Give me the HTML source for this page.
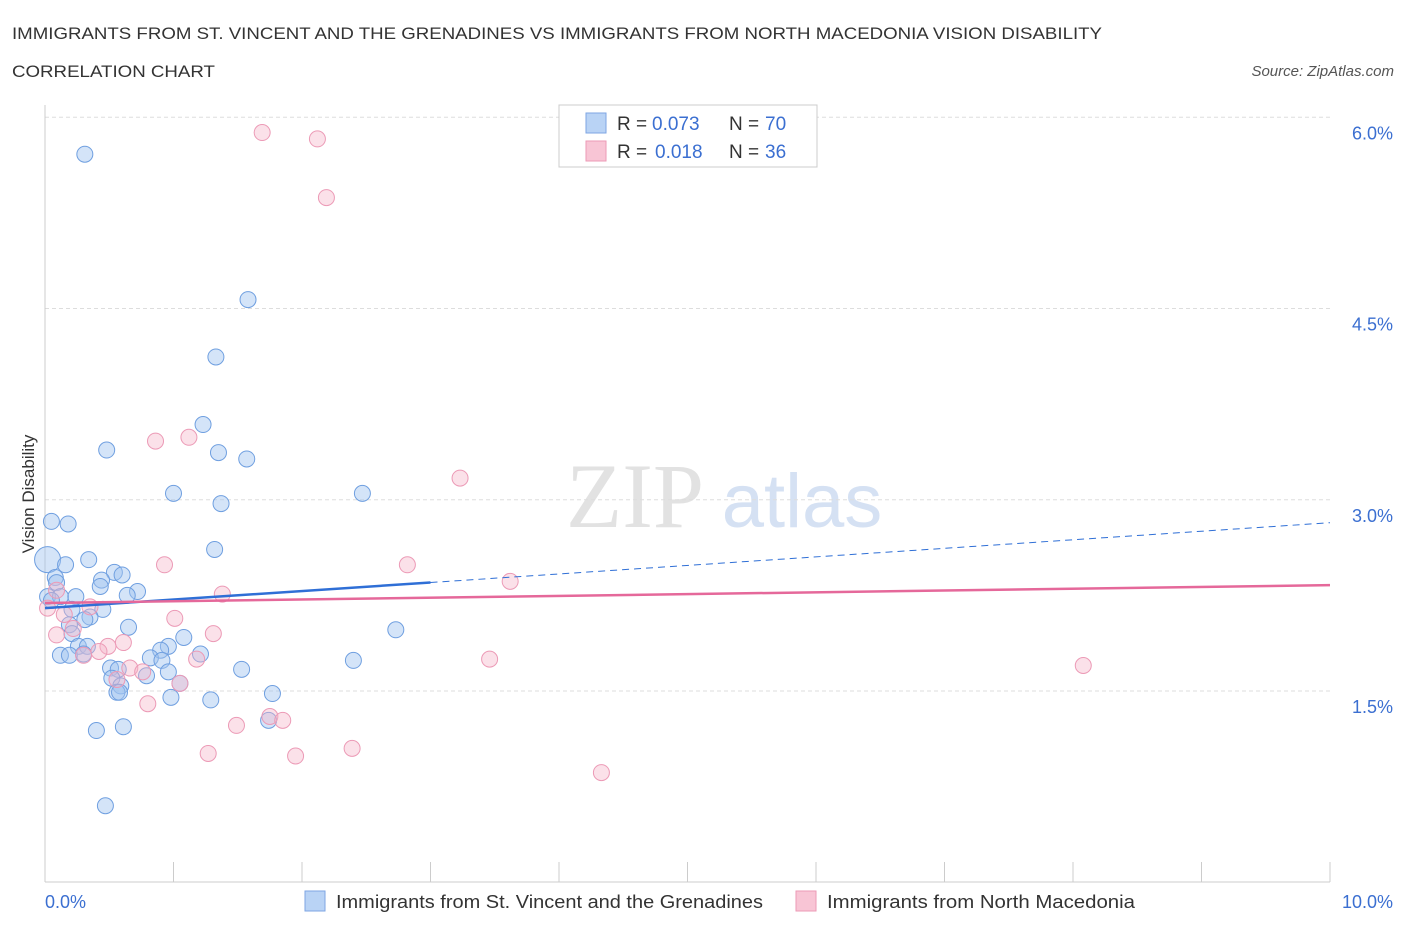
<!DOCTYPE html>
<html><head><meta charset="utf-8"><style>
body{margin:0;background:#fff;width:1406px;height:930px;overflow:hidden;font-family:"Liberation Sans",sans-serif}
</style></head><body>
<svg width="1406" height="930" xmlns="http://www.w3.org/2000/svg">
<text x="12" y="39" font-size="17" fill="#333" textLength="1090" lengthAdjust="spacingAndGlyphs">IMMIGRANTS FROM ST. VINCENT AND THE GRENADINES VS IMMIGRANTS FROM NORTH MACEDONIA VISION DISABILITY</text>
<text x="12" y="77" font-size="17" fill="#333" textLength="203" lengthAdjust="spacingAndGlyphs">CORRELATION CHART</text>
<text x="1394" y="76" font-size="15" fill="#555" font-style="italic" text-anchor="end">Source: ZipAtlas.com</text>
<text x="635" y="527" font-size="92" fill="#e2e2e2" font-family="Liberation Serif,serif" text-anchor="middle">ZIP</text>
<text x="802" y="527" font-size="76" fill="#d5e1f3" text-anchor="middle">atlas</text>
<g id="grid"></g>
<line x1="45" y1="105" x2="45" y2="882" stroke="#ccc"/>
<line x1="45" y1="882" x2="1330" y2="882" stroke="#ccc"/>
<g id="xticks"></g>
<text transform="translate(34,494) rotate(-90)" font-size="17" fill="#333" text-anchor="middle">Vision Disability</text>
<text x="45" y="908" font-size="18" fill="#3b6fd1">0.0%</text>
<text x="1393" y="908" font-size="18" fill="#3b6fd1" text-anchor="end">10.0%</text>
<g id="pts"></g>
<g id="trends"></g>
<g>
<rect x="559" y="105" width="258" height="62" fill="#fff" stroke="#ccc"/>
<rect x="586" y="113" width="20" height="20" fill="#b9d3f5" stroke="#7ea6e3"/>
<rect x="586" y="141" width="20" height="20" fill="#f8c5d5" stroke="#ec9ab6"/>
<text x="617" y="130" font-size="19" fill="#333">R =</text>
<text x="652" y="130" font-size="19" fill="#3b6fd1">0.073</text>
<text x="729" y="130" font-size="19" fill="#333">N =</text>
<text x="765" y="130" font-size="19" fill="#3b6fd1">70</text>
<text x="617" y="158" font-size="19" fill="#333">R =</text>
<text x="655" y="158" font-size="19" fill="#3b6fd1">0.018</text>
<text x="729" y="158" font-size="19" fill="#333">N =</text>
<text x="765" y="158" font-size="19" fill="#3b6fd1">36</text>
</g>
<g>
<rect x="305" y="891" width="20" height="20" fill="#b9d3f5" stroke="#7ea6e3"/>
<text x="336" y="908" font-size="18" fill="#333" textLength="427" lengthAdjust="spacingAndGlyphs">Immigrants from St. Vincent and the Grenadines</text>
<rect x="796" y="891" width="20" height="20" fill="#f8c5d5" stroke="#ec9ab6"/>
<text x="827" y="908" font-size="18" fill="#333" textLength="308" lengthAdjust="spacingAndGlyphs">Immigrants from North Macedonia</text>
</g>
</svg>
<script>
const yTicks=[1.5,3.0,4.5,6.0];
const yTickLabels=["1.5%","3.0%","4.5%","6.0%"];
const blueX=[.31,1.58,1.33,1.23,.48,1.35,1.57,1.00,2.47,1.37,.05,.18,1.32,.34,.02,.16,.08,.54,.60,.44,.09,.43,.72,.64,.02,.12,.24,.05,.21,.45,.35,.31,.19,.21,.65,1.08,2.73,.96,.26,.33,.90,1.21,.12,.19,.82,.91,2.40,1.53,.51,.57,.96,.79,.52,.59,1.05,.56,.58,1.77,.98,1.29,.40,.61,1.74,.47,.30];
const blueY=[5.71,4.57,4.12,3.59,3.39,3.37,3.32,3.05,3.05,2.97,2.83,2.81,2.61,2.53,2.53,2.49,2.39,2.43,2.41,2.37,2.35,2.32,2.28,2.25,2.24,2.24,2.24,2.21,2.14,2.14,2.08,2.06,2.02,1.95,2.00,1.92,1.98,1.85,1.85,1.85,1.82,1.79,1.78,1.78,1.76,1.74,1.74,1.67,1.68,1.67,1.65,1.62,1.60,1.54,1.56,1.49,1.49,1.48,1.45,1.43,1.19,1.22,1.27,0.60,1.79];
const pinkX=[1.69,2.12,2.19,.86,1.12,3.23,.93,2.82,3.62,1.38,.09,.02,.15,1.01,.35,.22,1.31,.09,.61,.49,.42,.30,1.18,3.46,8.08,.66,.76,.56,1.05,.80,1.75,1.85,1.49,2.39,1.27,1.95,4.33];
const pinkY=[5.88,5.83,5.37,3.46,3.49,3.17,2.49,2.49,2.36,2.26,2.29,2.15,2.10,2.07,2.16,1.99,1.95,1.94,1.88,1.85,1.81,1.78,1.75,1.75,1.70,1.68,1.65,1.59,1.56,1.40,1.30,1.27,1.23,1.05,1.01,0.99,0.86];
const blueTrend=[2.15,2.82];
const pinkTrend=[2.19,2.33];
const sx=v=>45+v*128.5, sy=v=>691-(v-1.5)*127.5;
const NS="http://www.w3.org/2000/svg";
function mk(t,a,p){const e=document.createElementNS(NS,t);for(const k in a)e.setAttribute(k,a[k]);p.appendChild(e);return e;}
const grid=document.getElementById('grid');
yTicks.forEach((v,i)=>{
 const l=mk('line',{x1:45,x2:1330,y1:sy(v),y2:sy(v),stroke:'#ddd','stroke-dasharray':'4,3'},grid);
 
 
 const t=mk('text',{x:1393,y:sy(v)+22,'font-size':18,fill:'#3b6fd1','text-anchor':'end'},grid);
 t.textContent=yTickLabels[i];
 
 
});
const xt=document.getElementById('xticks');
for(let i=0;i<=10;i++){
 const l=mk('line',{x1:sx(i),x2:sx(i),y1:862,y2:882,stroke:'#ccc'},xt);
 
 
}
const pts=document.getElementById('pts');
blueX.forEach((x,i)=>{
 const c=mk('circle',{cx:sx(x),cy:sy(blueY[i]),r:i==14?13:8,fill:'rgba(160,196,240,0.45)',stroke:'#6f9fe0','stroke-width':1},pts);
 
 
});
pinkX.forEach((x,i)=>{
 const c=mk('circle',{cx:sx(x),cy:sy(pinkY[i]),r:8,fill:'rgba(246,180,200,0.4)',stroke:'#ec9ab6','stroke-width':1},pts);
 
 
});
const tr=document.getElementById('trends');
const by=x=>blueTrend[0]+(blueTrend[1]-blueTrend[0])*x/10;
let b1=mk('line',{x1:sx(0),y1:sy(by(0)),x2:sx(3),y2:sy(by(3)),stroke:'#2f6fd6','stroke-width':2.5},tr);


let b2=mk('line',{x1:sx(3),y1:sy(by(3)),x2:sx(10),y2:sy(by(10)),stroke:'#2f6fd6','stroke-width':1,'stroke-dasharray':'7,5'},tr);


let p1=mk('line',{x1:sx(0),y1:sy(pinkTrend[0]),x2:sx(10),y2:sy(pinkTrend[1]),stroke:'#e5689a','stroke-width':2.5},tr);


</script>
</body></html>
